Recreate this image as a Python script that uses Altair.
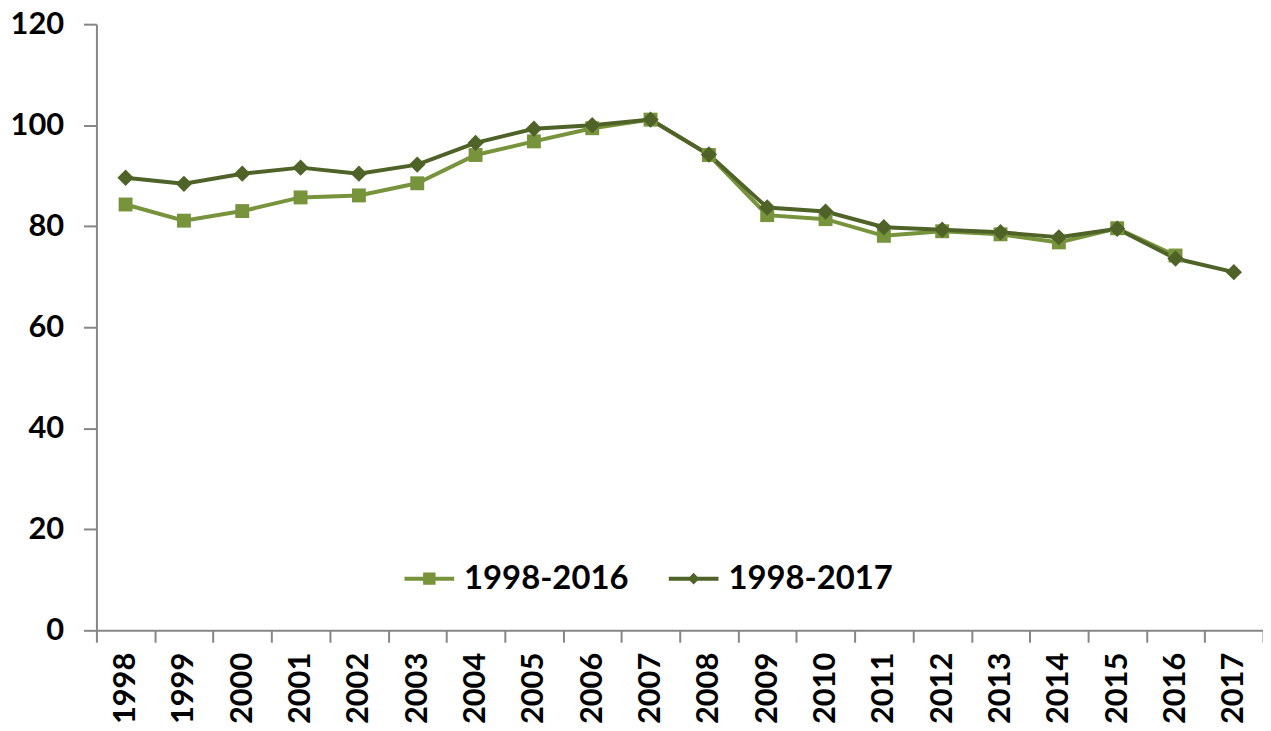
import altair as alt
import pandas as pd

years = [str(y) for y in range(1998, 2018)]
series_names = ["1998-2016", "1998-2017"]
s2016 = [84.3, 81.1, 83.0, 85.7, 86.1, 88.5, 94.1, 96.8, 99.4, 101.1,
         94.1, 82.2, 81.4, 78.1, 79.0, 78.4, 76.8, 79.6, 74.2, None]
s2017 = [89.6, 88.4, 90.4, 91.6, 90.4, 92.2, 96.5, 99.3, 100.0, 101.1,
         94.2, 83.7, 82.9, 79.8, 79.3, 78.8, 77.8, 79.5, 73.6, 70.9]
colors = ["#77933C", "#4F6228"]
y_ticks = [0, 20, 40, 60, 80, 100, 120]

rows = []
for name, vals in zip(series_names, [s2016, s2017]):
    for yr, v in zip(years, vals):
        if v is not None:
            rows.append({"year": yr, "series": name, "value": v})
df = pd.DataFrame(rows)

FONT = "Lato"
AXIS_GRAY = "#868686"

x_enc = alt.X("year:N", sort=years,
              scale=alt.Scale(paddingInner=0, paddingOuter=0),
              axis=alt.Axis(title=None, labelAngle=-90, tickBand="extent",
                            tickSize=12, labelPadding=10, domainColor=AXIS_GRAY,
                            tickColor=AXIS_GRAY, tickWidth=2, domainWidth=2,
                            labelFont=FONT, labelFontSize=31, labelFontWeight="bold",
                            labelColor="#000000"))
y_enc = alt.Y("value:Q",
              scale=alt.Scale(domain=[0, 120], nice=False, zero=True),
              axis=alt.Axis(title=None, values=y_ticks, grid=False, tickSize=13,
                            labelPadding=20, domainColor=AXIS_GRAY, tickColor=AXIS_GRAY,
                            tickWidth=2, domainWidth=2,
                            labelFont=FONT, labelFontSize=31, labelFontWeight="bold",
                            labelColor="#000000"))


def col_scale():
    return alt.Scale(domain=series_names, range=colors)


lines = alt.Chart(df).mark_line(strokeWidth=4).encode(
    x=x_enc, y=y_enc,
    color=alt.Color("series:N", scale=col_scale(), legend=None),
)

points = alt.Chart(df).mark_point(filled=True, opacity=1).encode(
    x=x_enc, y=y_enc,
    color=alt.Color("series:N", scale=col_scale(), legend=None),
    shape=alt.Shape("series:N", scale=alt.Scale(domain=series_names, range=["square", "diamond"]),
                    legend=None),
    size=alt.Size("series:N", scale=alt.Scale(domain=series_names, range=[196, 270]),
                  legend=None),
)

sq_path = "M-1,0H1M-0.17,-0.17H0.17V0.17H-0.17ZM-0.17,-0.09H0.17M-0.17,0.09H0.17"
dm_path = "M-1,0H1M0,-0.12L0.12,0L0,0.12L-0.12,0Z"

leg = alt.Legend(title=None, orient="none", legendX=308, legendY=531,
                 direction="horizontal", symbolSize=2500, symbolStrokeWidth=4,
                 labelFont=FONT, labelFontSize=33, labelFontWeight="bold",
                 labelColor="#000000", labelOffset=8, columnPadding=32,
                 labelLimit=0, symbolOpacity=1)

legend_layer = alt.Chart(df).transform_filter("datum.value < 0").mark_point(
    filled=False, strokeWidth=4, opacity=1).encode(
    x=x_enc, y=y_enc,
    color=alt.Color("series:N", scale=col_scale(), legend=leg),
    shape=alt.Shape("series:N", scale=alt.Scale(domain=series_names, range=[sq_path, dm_path]),
                    legend=leg),
)

chart = alt.layer(lines, points, legend_layer).resolve_scale(
    shape="independent", color="independent"
).properties(
    width=1174, height=610,
    autosize=alt.AutoSizeParams(type="none"),
    padding={"left": 89, "top": 14, "right": 0, "bottom": 91},
).configure_view(stroke=None)

chart.save("out.html", embed_options={"renderer": "svg", "actions": False})
